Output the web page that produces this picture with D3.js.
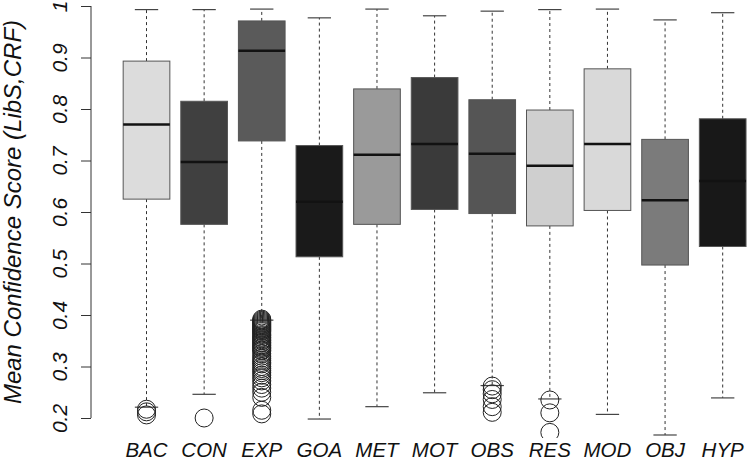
<!DOCTYPE html>
<html>
<head>
<meta charset="utf-8">
<script src="https://cdn.jsdelivr.net/npm/d3@7"></script>
<style>
  html, body { margin: 0; padding: 0; background: #fff; }
  svg { display: block; }
  text { font-family: "Liberation Sans", Arial, Helvetica, sans-serif; font-style: italic; fill: #111; }
</style>
</head>
<body>
<script>
// ---- data ----
const categories = ["BAC","CON","EXP","GOA","MET","MOT","OBS","RES","MOD","OBJ","HYP"];
const whiskerLow  = [0.221, 0.246, 0.390, 0.198, 0.222, 0.249, 0.263, 0.237, 0.207, 0.167, 0.239];
const q1          = [0.625, 0.576, 0.738, 0.513, 0.576, 0.605, 0.597, 0.573, 0.603, 0.497, 0.533];
const medians     = [0.770, 0.697, 0.913, 0.620, 0.711, 0.732, 0.713, 0.690, 0.732, 0.623, 0.660];
const q3          = [0.893, 0.815, 0.971, 0.729, 0.839, 0.861, 0.818, 0.798, 0.878, 0.741, 0.781];
const whiskerHigh = [0.993, 0.993, 0.994, 0.977, 0.994, 0.981, 0.990, 0.993, 0.994, 0.973, 0.987];
const boxColors   = ["#dcdcdc","#404040","#5a5a5a","#1a1a1a","#9a9a9a","#3a3a3a","#555555","#cfcfcf","#d9d9d9","#7b7b7b","#181818"];
const outliersBAC = [0.217, 0.212, 0.206];
const outliersCON = [0.200];
const outliersEXP = [0.392,0.390,0.388,0.386,0.384,0.382,0.380,0.378,0.376,0.374,0.372,0.370,0.368,0.365,
                     0.362,0.360,0.357,0.355,0.352,0.350,0.347,0.345,0.342,0.340,0.337,0.335,0.332,0.330,
                     0.325,0.320,0.316,0.312,0.308,0.305,0.300,0.296,0.292,0.288,0.283,0.278,0.272,0.265,
                     0.258,0.250,0.240,0.215,0.208];
const outliersOBS = [0.262, 0.255, 0.247, 0.236, 0.222, 0.211];
const outliersRES = [0.235, 0.210, 0.172];
const outlierSets = {BAC: outliersBAC, CON: outliersCON, EXP: outliersEXP, OBS: outliersOBS, RES: outliersRES};
const yTicks = [0.2, 0.3, 0.4, 0.5, 0.6, 0.7, 0.8, 0.9, 1];
const yTickLabels = ["0.2","0.3","0.4","0.5","0.6","0.7","0.8","0.9","1"];
const yTitle = "Mean Confidence Score (LibS,CRF)";

// ---- layout ----
const W = 749, H = 461;
const svg = d3.select("body").append("svg").attr("width", W).attr("height", H);

const x = d3.scaleBand().domain(categories).range([117.7, 751.5]).padding(0);
const y = d3.scaleLinear().domain([0.2, 1]).range([418, 6]);
const boxW = x.bandwidth() * 0.81;
const capW = boxW * 0.5;
const cx = c => x(c) + x.bandwidth() / 2;

svg.append("defs").append("clipPath").attr("id", "plotclip")
  .append("rect").attr("x", 92).attr("y", 0).attr("width", W - 92).attr("height", 438);

const plot = svg.append("g").attr("clip-path", "url(#plotclip)");

const rows = categories.map((c, i) => ({
  c, lo: whiskerLow[i], q1: q1[i], med: medians[i], q3: q3[i], hi: whiskerHigh[i], color: boxColors[i]
}));

const g = plot.selectAll("g.box").data(rows).join("g").attr("class", "box");

// whiskers (dashed)
g.append("line")
  .attr("x1", d => cx(d.c)).attr("x2", d => cx(d.c))
  .attr("y1", d => y(d.q3)).attr("y2", d => y(d.hi))
  .attr("stroke", "#333").attr("stroke-width", 1).attr("stroke-dasharray", "3,3");
g.append("line")
  .attr("x1", d => cx(d.c)).attr("x2", d => cx(d.c))
  .attr("y1", d => y(d.q1)).attr("y2", d => y(d.lo))
  .attr("stroke", "#333").attr("stroke-width", 1).attr("stroke-dasharray", "3,3");
// caps
g.append("line")
  .attr("x1", d => cx(d.c) - capW / 2).attr("x2", d => cx(d.c) + capW / 2)
  .attr("y1", d => y(d.hi)).attr("y2", d => y(d.hi))
  .attr("stroke", "#444").attr("stroke-width", 1.2);
g.append("line")
  .attr("x1", d => cx(d.c) - capW / 2).attr("x2", d => cx(d.c) + capW / 2)
  .attr("y1", d => y(d.lo)).attr("y2", d => y(d.lo))
  .attr("stroke", "#444").attr("stroke-width", 1.2);
// boxes
g.append("rect")
  .attr("x", d => cx(d.c) - boxW / 2).attr("width", boxW)
  .attr("y", d => y(d.q3)).attr("height", d => y(d.q1) - y(d.q3))
  .attr("fill", d => d.color).attr("stroke", "#555").attr("stroke-width", 1);
// medians
g.append("line")
  .attr("x1", d => cx(d.c) - boxW / 2).attr("x2", d => cx(d.c) + boxW / 2)
  .attr("y1", d => y(d.med)).attr("y2", d => y(d.med))
  .attr("stroke", "#121212").attr("stroke-width", 2.5);

// outliers
const outPts = [];
Object.keys(outlierSets).forEach(c => outlierSets[c].forEach(v => outPts.push({c, v})));
plot.selectAll("circle.out").data(outPts).join("circle")
  .attr("class", "out")
  .attr("cx", d => cx(d.c)).attr("cy", d => y(d.v)).attr("r", 9)
  .attr("fill", "none").attr("stroke", "#222").attr("stroke-width", 1);

// y axis
const yAxis = d3.axisLeft(y).tickValues(yTicks).tickSize(10)
  .tickFormat((d, i) => yTickLabels[i]);
const ya = svg.append("g").attr("transform", "translate(91,0)").call(yAxis);
ya.select(".domain").attr("stroke", "#333").attr("d", `M0,${y(0.2)}V${y(1)}`);
ya.selectAll(".tick line").attr("stroke", "#333");
ya.selectAll(".tick text")
  .attr("font-size", 21).attr("font-family", "Liberation Sans, Arial, sans-serif")
  .attr("font-style", "italic").attr("fill", "#111")
  .attr("text-anchor", "middle").attr("dy", null)
  .attr("transform", "translate(-24,0) rotate(-90)")
  .attr("x", 0).attr("y", 0);

// x labels (no axis line in reference)
svg.selectAll("text.xl").data(categories).join("text")
  .attr("class", "xl")
  .attr("x", d => cx(d)).attr("y", 457)
  .attr("text-anchor", "middle").attr("font-size", 20.5)
  .text(d => d);

// y title
svg.append("text")
  .attr("transform", `translate(21,${(y(0.2) + y(1)) / 2}) rotate(-90)`)
  .attr("text-anchor", "middle").attr("font-size", 24)
  .text(yTitle);
</script>
</body>
</html>
